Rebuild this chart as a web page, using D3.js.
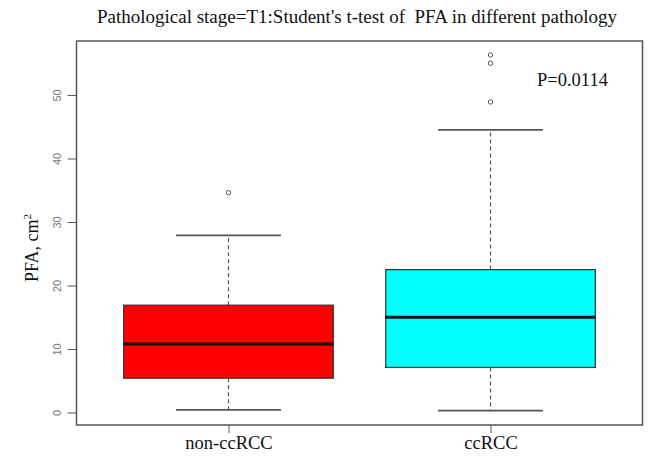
<!DOCTYPE html>
<html lang="en">
<head>
    <meta charset="utf-8">
    <title>PFA boxplot</title>
    <script type="text/javascript" src="https://d3js.org/d3.v7.min.js"></script>
    <style>
        body{
            margin: 0;
            background: white;
        }
        .serif{
            font-family: "Liberation Serif", "Times New Roman", serif;
        }
        .y g.tick text{
            font-family: "Liberation Sans", Arial, sans-serif;
            font-size: 11px;
            fill: #777;
        }
        .axis path.domain{
            display: none;
        }
        .axis g.tick line{
            stroke: #555;
        }
    </style>
</head>
<body>
    <div id="chart"></div>
    <script type="text/javascript">
        // values
        const groups = ["non-ccRCC", "ccRCC"];
        const lowWhisker = [0.4, 0.3];
        const q1 = [5.4, 7.1];
        const medians = [10.8, 15.0];
        const q3 = [16.9, 22.5];
        const highWhisker = [27.9, 44.5];
        const outliers = [[34.6], [48.9, 55.0, 56.3]];
        const yTicks = [0, 10, 20, 30, 40, 50];
        const fills = ["#ff0000", "#00ffff"];

        const width = 657;
        const height = 458;
        const plot = {left: 76.5, right: 642.5, top: 41, bottom: 425};

        const svg = d3.select("#chart")
            .append("svg")
            .attr("width", width)
            .attr("height", height);

        // R style: xlim 0.5..n+0.5 widened by 4%
        const x = d3.scaleLinear()
            .domain([0.42, 2.58])
            .range([plot.left, plot.right]);

        const y = d3.scaleLinear()
            .domain([-1.97, 58.5])
            .range([plot.bottom, plot.top]);

        const boxHalf = 0.4;
        const capHalf = 0.2;

        const data = groups.map((g, i) => ({
            name: g,
            pos: i + 1,
            lo: lowWhisker[i],
            q1: q1[i],
            med: medians[i],
            q3: q3[i],
            hi: highWhisker[i],
            out: outliers[i],
            fill: fills[i]
        }));

        const boxes = svg.append("g")
            .attr("class", "boxes")
            .selectAll("g")
            .data(data)
            .enter()
            .append("g");

        // dashed whiskers
        boxes.append("line")
            .attr("x1", d => x(d.pos))
            .attr("x2", d => x(d.pos))
            .attr("y1", d => y(d.q3))
            .attr("y2", d => y(d.hi))
            .attr("stroke", "#555")
            .attr("stroke-width", 1.2)
            .attr("stroke-dasharray", "4,3");

        boxes.append("line")
            .attr("x1", d => x(d.pos))
            .attr("x2", d => x(d.pos))
            .attr("y1", d => y(d.q1))
            .attr("y2", d => y(d.lo))
            .attr("stroke", "#555")
            .attr("stroke-width", 1.2)
            .attr("stroke-dasharray", "4,3");

        // whisker caps
        boxes.selectAll("line.cap")
            .data(d => [d, d].map((e, k) => ({pos: e.pos, v: k ? e.hi : e.lo})))
            .enter()
            .append("line")
            .attr("class", "cap")
            .attr("x1", d => x(d.pos - capHalf))
            .attr("x2", d => x(d.pos + capHalf))
            .attr("y1", d => y(d.v))
            .attr("y2", d => y(d.v))
            .attr("stroke", "#555")
            .attr("stroke-width", 1.8);

        // boxes
        boxes.append("rect")
            .attr("x", d => x(d.pos - boxHalf))
            .attr("width", d => x(d.pos + boxHalf) - x(d.pos - boxHalf))
            .attr("y", d => y(d.q3))
            .attr("height", d => y(d.q1) - y(d.q3))
            .attr("fill", d => d.fill)
            .attr("stroke", "#333")
            .attr("stroke-width", 1.2);

        // medians
        boxes.append("line")
            .attr("x1", d => x(d.pos - boxHalf))
            .attr("x2", d => x(d.pos + boxHalf))
            .attr("y1", d => y(d.med))
            .attr("y2", d => y(d.med))
            .attr("stroke", "#111")
            .attr("stroke-width", 3);

        // outliers
        boxes.selectAll("circle")
            .data(d => d.out.map(v => ({pos: d.pos, v: v})))
            .enter()
            .append("circle")
            .attr("cx", d => x(d.pos))
            .attr("cy", d => y(d.v))
            .attr("r", 2.2)
            .attr("fill", "none")
            .attr("stroke", "#555")
            .attr("stroke-width", 1);

        // y axis
        const yAxis = d3.axisLeft(y)
            .tickValues(yTicks)
            .tickSize(9)
            .tickPadding(4);

        const yG = svg.append("g")
            .attr("class", "axis y")
            .attr("transform", `translate(${plot.left}, 0)`)
            .call(yAxis);

        yG.selectAll("g.tick text")
            .attr("x", null)
            .attr("dy", null)
            .attr("text-anchor", "middle")
            .attr("transform", "translate(-16, 0) rotate(-90)");

        // x axis
        const xAxis = d3.axisBottom(x)
            .tickValues(data.map(d => d.pos))
            .tickFormat((d, i) => groups[i])
            .tickSize(8)
            .tickPadding(3);

        const xG = svg.append("g")
            .attr("class", "axis x")
            .attr("transform", `translate(0, ${plot.bottom})`)
            .call(xAxis);

        xG.selectAll("g.tick text")
            .attr("class", "serif")
            .style("font-size", "18.5px")
            .style("fill", "#111");

        // frame
        svg.append("rect")
            .attr("x", plot.left)
            .attr("y", plot.top)
            .attr("width", plot.right - plot.left)
            .attr("height", plot.bottom - plot.top)
            .attr("fill", "none")
            .attr("stroke", "#555")
            .attr("stroke-width", 1.5);

        // title and labels
        svg.append("text")
            .attr("class", "serif")
            .attr("x", 357)
            .attr("y", 23)
            .attr("text-anchor", "middle")
            .style("font-size", "19px")
            .style("fill", "#111")
            .style("white-space", "pre")
            .text("Pathological stage=T1:Student's t-test of  PFA in different pathology");

        const yLabel = svg.append("text")
            .attr("class", "serif")
            .attr("transform", `translate(38, ${(plot.top + plot.bottom) / 2 + 15}) rotate(-90)`)
            .attr("text-anchor", "middle")
            .style("font-size", "18px")
            .style("fill", "#111");
        yLabel.append("tspan").text("PFA, cm");
        yLabel.append("tspan")
            .attr("dy", -7)
            .style("font-size", "11px")
            .text("2");

        svg.append("text")
            .attr("class", "serif")
            .attr("x", 537)
            .attr("y", 86)
            .style("font-size", "18.5px")
            .style("fill", "#111")
            .text("P=0.0114");
    </script>
</body>
</html>
